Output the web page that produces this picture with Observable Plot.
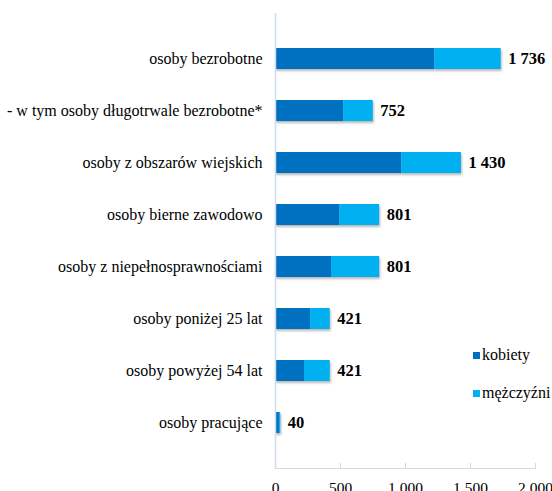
<!DOCTYPE html>
<html><head><meta charset="utf-8">
<script src="https://cdn.jsdelivr.net/npm/d3@7"></script>
<script src="https://cdn.jsdelivr.net/npm/@observablehq/plot@0.6"></script>
<style>
html,body{margin:0;padding:0;background:#fff;}
#wrap{position:relative;width:552px;height:491px;overflow:hidden;font-family:"Liberation Serif",serif;}
.leg{position:absolute;left:473px;font-size:16px;color:#000;display:flex;align-items:center;white-space:nowrap;font-family:"Liberation Serif",serif;}
.sw{width:7px;height:7px;margin-right:2px;display:inline-block;}
</style></head>
<body><div id="wrap"></div>
<script>
const categories = ["osoby bezrobotne","- w tym osoby długotrwale bezrobotne*","osoby z obszarów wiejskich","osoby bierne zawodowo","osoby z niepełnosprawnościami","osoby poniżej 25 lat","osoby powyżej 54 lat","osoby pracujące"];
const kobiety = [1225, 524, 971, 493, 431, 270, 223, 30];
const mezczyzni = [511, 228, 459, 308, 370, 151, 198, 10];
const totals = [1736, 752, 1430, 801, 801, 421, 421, 40];
const seriesNames = ["kobiety","mężczyźni"];
const seriesColors = ["#0070C0","#00B0F0"];
const xTicks = [0, 500, 1000, 1500, 2000];

const fmt = v => d3.format(",")(v).replace(/,/g, "\u00a0");
const rows = [];
categories.forEach((c,i)=>{
  rows.push({cat:c, series:seriesNames[0], value:kobiety[i]});
  rows.push({cat:c, series:seriesNames[1], value:mezczyzni[i]});
});
const totalRows = categories.map((c,i)=>({cat:c, total:totals[i]}));

const chart = Plot.plot({
  width:552, height:491,
  marginLeft:275, marginRight:17, marginTop:13, marginBottom:23,
  style:{fontFamily:"'Liberation Serif',serif", fontSize:"16px", color:"#000", background:"#fff"},
  x:{domain:[0,2000], axis:null},
  y:{domain:categories, padding:0.6, axis:null},
  color:{domain:seriesNames, range:seriesColors},
  marks:[
    Plot.barX(rows, Plot.stackX({x:"value", y:"cat", fill:"series", order:seriesNames})),
    Plot.ruleX([0], {stroke:"#d0dcef", strokeWidth:1.5}),
    Plot.frame({anchor:"bottom", stroke:"#d9d9d9"}),
    Plot.axisY({tickSize:0, tickPadding:13, fontSize:16, label:null}),
    Plot.axisX({ticks:xTicks, tickSize:0, tickPadding:13, tickFormat:fmt, fontSize:15.5, label:null}),
    Plot.axisX({ticks:xTicks, tickSize:5, text:null, dy:-5, stroke:"#d9d9d9", label:null}),
    Plot.text(totalRows, {x:"total", y:"cat", text:d=>fmt(d.total), textAnchor:"start", dx:7, fontWeight:"bold", fontSize:16.5, fill:"#000"})
  ]
});
chart.querySelectorAll("text").forEach(t=>{t.style.fontFamily="'Liberation Serif', serif";});
chart.querySelectorAll('g[aria-label="bar"]').forEach(g=>{g.style.filter="drop-shadow(1px 2px 1.2px rgba(0,0,0,0.28))";});
const wrap = document.getElementById("wrap");
wrap.appendChild(chart);
const legendY = [355, 393];
seriesNames.forEach((n,i)=>{
  const d = document.createElement("div");
  d.className="leg";
  d.style.top=(legendY[i]-10)+"px";
  d.style.height="20px";
  d.innerHTML='<span class="sw" style="background:'+seriesColors[i]+'"></span>'+n;
  wrap.appendChild(d);
});
</script></body></html>
